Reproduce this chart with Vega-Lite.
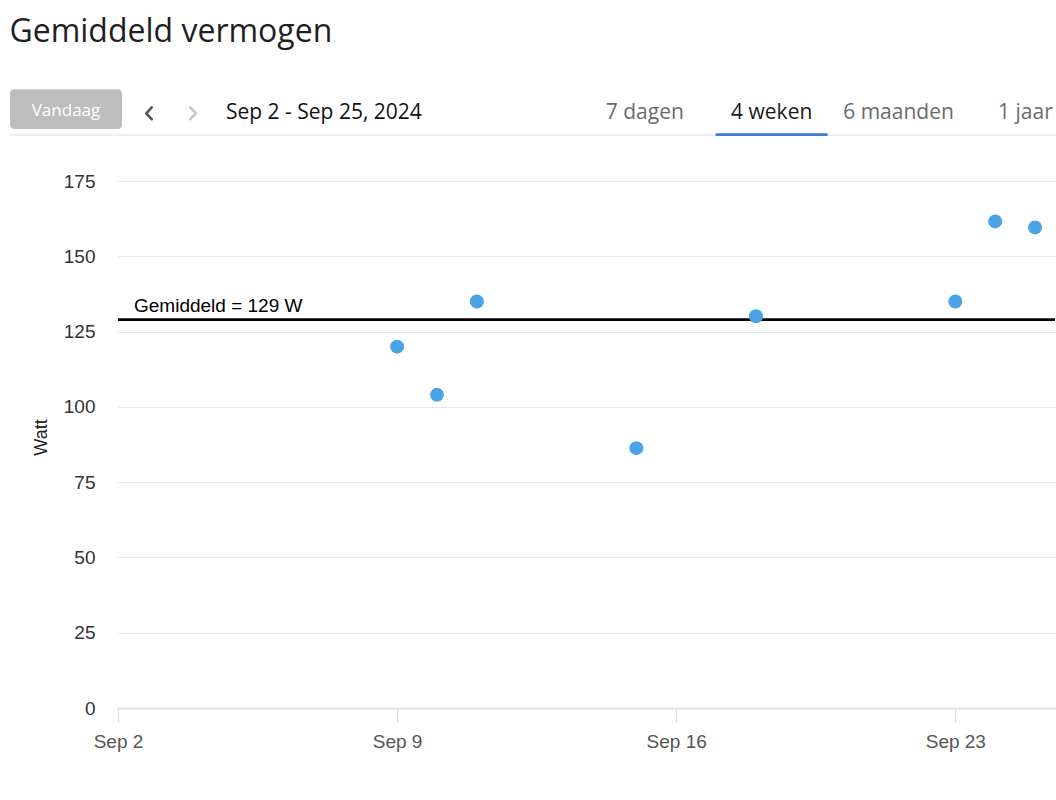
{
  "$schema": "https://vega.github.io/schema/vega-lite/v6.json",
  "width": 937,
  "height": 542,
  "autosize": {"type": "none"},
  "padding": {"left": 118, "top": 166, "right": 1, "bottom": 92},
  "background": "white",
  "title": {
    "text": "Gemiddeld vermogen",
    "anchor": "start",
    "frame": "bounds",
    "font": "Open Sans",
    "fontSize": 32,
    "fontWeight": 400,
    "color": "#1f1f1f",
    "offset": 40
  },
  "datasets": {
    "power": [
      {"datum": "2024-09-09T00:00:00", "watt": 120},
      {"datum": "2024-09-10T00:00:00", "watt": 104},
      {"datum": "2024-09-11T00:00:00", "watt": 135},
      {"datum": "2024-09-15T00:00:00", "watt": 86.3},
      {"datum": "2024-09-18T00:00:00", "watt": 130.1},
      {"datum": "2024-09-23T00:00:00", "watt": 135},
      {"datum": "2024-09-24T00:00:00", "watt": 161.6},
      {"datum": "2024-09-25T00:00:00", "watt": 159.6}
    ],
    "ui": [
      {"item": "Vandaag", "kind": "button"},
      {"item": "prev", "kind": "nav"},
      {"item": "next", "kind": "nav"},
      {"item": "Sep 2 - Sep 25, 2024", "kind": "range"},
      {"item": "7 dagen", "kind": "tab"},
      {"item": "4 weken", "kind": "tab"},
      {"item": "6 maanden", "kind": "tab"},
      {"item": "1 jaar", "kind": "tab"}
    ]
  },
  "layer": [
    {
      "data": {"name": "power"},
      "layer": [
        {
          "mark": {"type": "rule", "color": "#000000", "strokeWidth": 2.8},
          "encoding": {
            "y": {"aggregate": "mean", "field": "watt", "type": "quantitative"}
          }
        },
        {
          "mark": {
            "type": "text",
            "text": "Gemiddeld = 129 W",
            "align": "left",
            "baseline": "alphabetic",
            "dx": 16,
            "dy": -7.5,
            "font": "Liberation Sans",
            "fontSize": 19,
            "color": "#000000"
          },
          "encoding": {
            "x": {"datum": {"year": 2024, "month": "sep", "date": 2}, "type": "temporal"},
            "y": {"aggregate": "mean", "field": "watt", "type": "quantitative"}
          }
        },
        {
          "mark": {"type": "circle", "size": 195, "opacity": 1, "color": "#4aa3e6"},
          "encoding": {
            "x": {
              "field": "datum",
              "type": "temporal",
              "scale": {
                "domain": [
                  {"year": 2024, "month": "sep", "date": 2},
                  {"year": 2024, "month": "sep", "date": 25, "hours": 12}
                ],
                "nice": false
              },
              "axis": {
                "title": null,
                "values": [
                  {"year": 2024, "month": "sep", "date": 2},
                  {"year": 2024, "month": "sep", "date": 9},
                  {"year": 2024, "month": "sep", "date": 16},
                  {"year": 2024, "month": "sep", "date": 23}
                ],
                "format": "%b %-d",
                "formatType": "time",
                "grid": false,
                "labelFlush": false,
                "labelOverlap": false,
                "domainColor": "#dcdcdc",
                "domainWidth": 1.5,
                "tickColor": "#dcdcdc",
                "tickSize": 14,
                "tickWidth": 1.2,
                "labelPadding": 10,
                "labelFont": "Liberation Sans",
                "labelFontSize": 19,
                "labelColor": "#555555"
              }
            },
            "y": {
              "field": "watt",
              "type": "quantitative",
              "scale": {"domain": [0, 180], "nice": false},
              "axis": {
                "title": "Watt",
                "values": [0, 25, 50, 75, 100, 125, 150, 175],
                "domain": false,
                "ticks": false,
                "grid": true,
                "gridColor": "#e6e6e6",
                "gridWidth": 1.2,
                "labelPadding": 23,
                "labelFont": "Liberation Sans",
                "labelFontSize": 19,
                "labelColor": "#333333",
                "titleFont": "Liberation Sans",
                "titleFontSize": 18,
                "titleFontWeight": "normal",
                "titleColor": "#222222",
                "titlePadding": 13
              }
            }
          }
        }
      ]
    },
    {
      "data": {"name": "ui"},
      "resolve": {"scale": {"x": "independent", "y": "independent", "color": "independent"}},
      "layer": [
        {
          "transform": [{"filter": "datum.kind === 'range'"}],
          "mark": {"type": "rule", "color": "#dddddd", "strokeWidth": 1.2},
          "encoding": {
            "x": {"value": -108},
            "x2": {"value": 938},
            "y": {"value": -31}
          }
        },
        {
          "transform": [{"filter": "datum.kind === 'button'"}],
          "encoding": {
            "x": {
              "field": "item",
              "type": "nominal",
              "scale": {"type": "band", "domain": ["Vandaag"], "range": [-108, 4], "paddingInner": 0, "paddingOuter": 0},
              "axis": null
            }
          },
          "layer": [
            {
              "mark": {"type": "rect", "color": "#bdbdbd", "cornerRadius": 4},
              "encoding": {"y": {"value": -76.7}, "y2": {"value": -37}}
            },
            {
              "mark": {"type": "text", "font": "Open Sans", "fontSize": 17, "color": "#ffffff", "baseline": "alphabetic", "align": "center"},
              "encoding": {"text": {"field": "item"}, "y": {"value": -50}}
            }
          ]
        },
        {
          "transform": [{"filter": "datum.kind === 'nav' || datum.kind === 'range'"}],
          "encoding": {
            "x": {
              "field": "item",
              "type": "nominal",
              "scale": {"type": "point", "domain": ["prev", "next", "Sep 2 - Sep 25, 2024"], "range": [31, 119], "padding": 0},
              "axis": null
            }
          },
          "layer": [
            {
              "transform": [{"filter": "datum.kind === 'nav'"}],
              "mark": {"type": "point", "filled": false, "size": 330, "strokeWidth": 2.6, "opacity": 1, "strokeCap": "round", "strokeJoin": "round"},
              "encoding": {
                "y": {"value": -52.7},
                "color": {"condition": {"test": "datum.item === 'prev'", "value": "#555555"}, "value": "#c8c8c8"},
                "shape": {"value": "M 0.3 -0.65 L -0.3 0 L 0.3 0.65"},
                "angle": {"condition": {"test": "datum.item === 'next'", "value": 180}, "value": 0}
              }
            },
            {
              "transform": [{"filter": "datum.kind === 'range'"}],
              "mark": {"type": "text", "font": "Open Sans", "fontSize": 21, "color": "#111111", "baseline": "alphabetic", "align": "left", "dx": -11},
              "encoding": {"text": {"field": "item"}, "y": {"value": -47}}
            }
          ]
        },
        {
          "transform": [{"filter": "datum.kind === 'tab'"}],
          "encoding": {
            "x": {
              "field": "item",
              "type": "nominal",
              "scale": {
                "type": "band",
                "domain": ["7 dagen", "4 weken", "6 maanden", "1 jaar"],
                "range": [463.4, 970.8],
                "paddingInner": 0.117,
                "paddingOuter": 0.0585
              },
              "axis": null
            }
          },
          "layer": [
            {
              "transform": [{"filter": "datum.item === '4 weken'"}],
              "mark": {"type": "rect", "color": "#3b7ddd"},
              "encoding": {"y": {"value": -32.7}, "y2": {"value": -30}}
            },
            {
              "mark": {"type": "text", "font": "Open Sans", "fontSize": 21, "baseline": "alphabetic", "align": "center"},
              "encoding": {
                "text": {"field": "item"},
                "y": {"value": -47},
                "color": {"condition": {"test": "datum.item === '4 weken'", "value": "#1a1a1a"}, "value": "#6b6b6b"}
              }
            }
          ]
        }
      ]
    }
  ],
  "resolve": {"scale": {"x": "independent", "y": "independent", "color": "independent"}},
  "config": {
    "view": {"stroke": null}
  }
}
